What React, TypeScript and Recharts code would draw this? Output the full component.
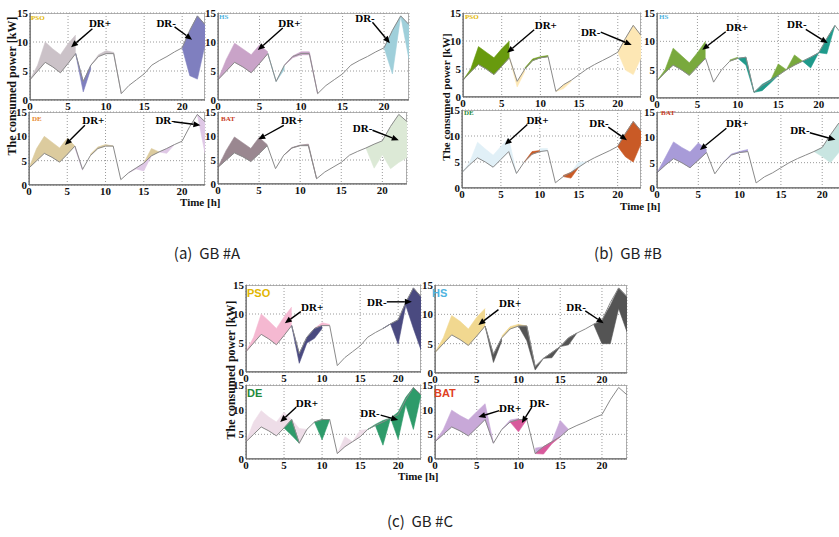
import React from 'react';
import { ComposedChart, Line, Area, XAxis, YAxis, CartesianGrid, ReferenceLine, ReferenceDot } from 'recharts';

type Band = [number, number, number][];
type Note = { text: string; at: [number, number]; from: [number, number]; to: [number, number] };

const HOURS = [0, 1, 2, 3, 4, 5, 6, 7, 8, 9, 10, 11, 12, 13, 14, 15, 16, 17, 18, 19, 20, 21, 22, 23];
const X_TICKS = [0, 5, 10, 15, 20];
const Y_TICKS = [0, 5, 10, 15];

const BASE_A = [3.5, 5, 6.5, 5.7, 4.7, 6.3, 8, 3.2, 6, 7.5, 8, 8, 1.1, 2.5, 3.5, 4.5, 6, 6.8, 7.5, 8.3, 9, 12, 14.5, 13];
const BASE_B = [3, 4.5, 5.8, 5, 4, 5.5, 7, 2.8, 5, 6.5, 7, 7.2, 1, 2.2, 3, 4, 5, 5.8, 6.5, 7.2, 8, 10.5, 12.8, 11];

// (a) GB #A
const A_PSO_PLUS: Band = [[0, 3.5, 3.5], [1, 5, 6], [2, 6.5, 10], [3, 5.7, 8.8], [4, 4.7, 7.8], [5, 6.3, 9.7], [6, 8, 11.2]];
const A_PSO_PLUS2: Band = [[8, 6, 6], [9, 7.5, 7.8], [10, 8, 8.5], [11, 8, 8.2], [12, 1.1, 1.1]];
const A_PSO_MINUS: Band = [[6, 8, 8], [7, 1.4, 3.2], [8, 5.4, 6]];
const A_PSO_MINUS2: Band = [[20, 9, 9], [21, 4.2, 12], [22, 3.6, 14.5], [23, 9.5, 13]];

const A_HS_PLUS: Band = [[0, 3.5, 3.5], [1, 5, 7], [2, 6.5, 9.8], [3, 5.7, 8.8], [4, 4.7, 7.8], [5, 6.3, 9.5], [6, 8, 8.3]];
const A_HS_PLUS2: Band = [[8, 6, 6], [9, 7.3, 7.6], [10, 7.8, 8.3], [11, 7.8, 8.3], [12, 1.1, 1.1]];
const A_HS_MINUS: Band = [[6, 8, 8], [7, 3.2, 3.2], [8, 5.3, 6]];
const A_HS_MINUS2: Band = [[20, 9, 9], [21, 4.5, 12], [22, 14.5, 14.5], [23, 7, 13]];

const A_DE_PLUS: Band = [[0, 3.5, 3.5], [1, 5, 7.5], [2, 6.5, 10], [3, 5.7, 8.8], [4, 4.7, 7.6], [5, 6.3, 9.6], [6, 8, 8]];
const A_DE_MINUS: Band = [[6, 7.6, 8], [7, 3, 3.2]];
const A_DE_PLUS2: Band = [[8, 6, 6.3], [9, 7.5, 7.8], [10, 8, 8.3], [11, 8, 8]];
const A_DE_MINUS2: Band = [[13, 2.5, 2.5], [14, 3.3, 3.5], [15, 2.9, 4.5], [16, 6, 6]];
const A_DE_PLUS3: Band = [[15, 4.5, 4.5], [16, 6, 7.5], [17, 6.8, 6.8]];
const A_DE_MINUS3: Band = [[17, 6.8, 6.8], [18, 6.5, 7.5], [19, 8.3, 8.3]];
const A_DE_MINUS4: Band = [[22, 14.5, 14.5], [23, 6.5, 13]];

const A_BAT_PLUS: Band = [[0, 3.5, 3.5], [1, 5, 7], [2, 6.5, 9.8], [3, 5.7, 8.6], [4, 4.7, 7.4], [5, 6.3, 9.7], [6, 8, 8.2]];
const A_BAT_PLUS2: Band = [[8, 6, 6], [9, 7.5, 7.6], [10, 8, 8.1], [11, 8, 8.3], [12, 1.1, 1.1]];
const A_BAT_MINUS: Band = [[18, 7.5, 7.5], [19, 3.3, 8.3], [20, 6.1, 9], [21, 3.2, 12], [22, 4.5, 14.5], [23, 5.5, 13]];

// (b) GB #B
const B_PSO_PLUS: Band = [[0, 3, 3], [1, 4.5, 5], [2, 5.8, 9], [3, 5, 8], [4, 4, 7], [5, 5.5, 8.6], [6, 7, 10]];
const B_PSO_PLUS2: Band = [[8, 5, 5.2], [9, 6.5, 6.8], [10, 7, 7.2], [11, 7.2, 7.4]];
const B_PSO_MINUS: Band = [[6, 7, 7], [7, 1.8, 2.8], [8, 4.6, 5]];
const B_PSO_MINUS2: Band = [[12, 1, 1], [13, 1.5, 2.2], [14, 2.8, 3]];
const B_PSO_MINUS3: Band = [[20, 8, 8], [21, 4.8, 10.5], [22, 4, 12.8], [23, 7, 11]];

const B_HS_PLUS: Band = [[0, 3, 3], [1, 4.5, 5], [2, 5.8, 8.8], [3, 5, 7.5], [4, 4, 6.2], [5, 5.5, 8], [6, 7, 10]];
const B_HS_PLUS2: Band = [[9, 6.5, 6.7], [10, 7, 7.2]];
const B_HS_MINUS: Band = [[10, 7, 7], [11, 5.8, 7.2], [12, 1, 1]];
const B_HS_MINUS2: Band = [[12, 1, 1], [13, 1.3, 2.4], [14, 2.6, 3.2], [15, 4, 4]];
const B_HS_PLUS3: Band = [[14, 3, 3], [15, 4, 6], [16, 5, 5]];
const B_HS_PLUS4: Band = [[16, 5, 5], [17, 5.8, 7.6], [18, 6.5, 6.5]];
const B_HS_MINUS3: Band = [[18, 6.5, 6.5], [19, 5.3, 7.2], [20, 8, 8]];
const B_HS_MINUS4: Band = [[20, 8, 8], [21, 7.8, 10.5], [22, 12.8, 12.8]];

const B_DE_PLUS: Band = [[0, 3, 3], [1, 4.5, 5], [2, 5.8, 8.8], [3, 5, 7.5], [4, 4, 6.3], [5, 5.5, 8], [6, 7, 9.6], [7, 2.8, 2.8]];
const B_DE_MINUS: Band = [[8, 5, 5], [9, 6.5, 7], [10, 7, 7.2]];
const B_DE_PLUS2: Band = [[10, 7, 7.6], [11, 7.2, 7.6]];
const B_DE_MINUS2: Band = [[13, 2.2, 2.4], [14, 1.9, 3], [15, 4, 4]];
const B_DE_PLUS3: Band = [[14, 3, 3], [15, 4, 5], [16, 5, 5]];
const B_DE_MINUS3: Band = [[20, 8, 8], [21, 6, 10.5], [22, 5, 12.8], [23, 8.5, 11]];

const B_BAT_PLUS: Band = [[0, 3, 3], [1, 4.5, 6], [2, 5.8, 9.1], [3, 5, 8], [4, 4, 7.1], [5, 5.5, 8.9], [6, 7, 7.6]];
const B_BAT_PLUS2: Band = [[8, 5, 5], [9, 6.5, 6.7], [10, 7, 7.2], [11, 7.2, 7.6]];
const B_BAT_MINUS: Band = [[19, 7.2, 7.2], [20, 6.2, 8], [21, 5, 10.5], [22, 7, 12.8], [23, 8, 11]];

// (c) GB #C
const C_PSO_PLUS: Band = [[0, 3.5, 3.5], [1, 5, 6], [2, 6.5, 10], [3, 5.7, 8.8], [4, 4.7, 7.5], [5, 6.3, 9.5], [6, 8, 11.2]];
const C_PSO_MINUS: Band = [[6, 8, 8], [7, 1.5, 3.2], [8, 5, 6], [9, 5.8, 7.5], [10, 7.5, 8]];
const C_PSO_PLUS2: Band = [[9, 7.5, 7.5], [10, 8, 8.5], [11, 8, 8.2]];
const C_PSO_MINUS2: Band = [[18, 7.5, 7.5], [19, 8.3, 8.3], [20, 4.8, 9], [21, 11.5, 12], [22, 7.5, 14.5], [23, 3.8, 13]];

const C_HS_PLUS: Band = [[0, 3.5, 3.5], [1, 5, 6], [2, 6.5, 9.8], [3, 5.7, 8.8], [4, 4.7, 7.5], [5, 6.3, 9.5], [6, 8, 11]];
const C_HS_MINUS: Band = [[6, 8, 8], [7, 1.8, 3.2], [8, 5.5, 6]];
const C_HS_PLUS2: Band = [[8, 6, 6.3], [9, 7.5, 7.9], [10, 8, 8.3], [11, 8, 8]];
const C_HS_MINUS2: Band = [[10, 8, 8], [11, 5.5, 8], [12, 0.5, 1.1], [13, 2.5, 2.5], [14, 2.6, 3.5], [15, 4.5, 4.5], [16, 4.8, 6], [17, 6.8, 6.8]];
const C_HS_MINUS3: Band = [[19, 8.3, 8.3], [20, 5, 9], [21, 5, 11.5], [22, 11, 14.5], [23, 7, 13]];

const C_DE_PLUS: Band = [[0, 3.5, 3.5], [1, 5, 7.5], [2, 6.5, 9.8], [3, 5.7, 8.5], [4, 4.7, 7.5], [5, 6.3, 9.5], [6, 8, 8], [7, 3.2, 6.2], [8, 6, 6]];
const C_DE_MINUS: Band = [[5, 6.3, 6.3], [6, 4.8, 8], [7, 3.2, 3.2]];
const C_DE_MINUS2: Band = [[9, 7.5, 7.5], [10, 3.9, 8], [11, 8, 8]];
const C_DE_PLUS2: Band = [[12, 1.1, 1.1], [13, 2.5, 4.5], [14, 3.5, 3.5], [15, 4.5, 5.8], [16, 6, 6]];
const C_DE_MINUS3: Band = [[16, 6, 6], [17, 6.8, 7], [18, 2.8, 7.8], [19, 8.3, 8.3], [20, 4, 9.5], [21, 11, 12.5], [22, 6, 14.5], [23, 13, 13]];

const C_BAT_PLUS: Band = [[0, 3.5, 3.5], [1, 5, 6], [2, 6.5, 9.9], [3, 5.7, 8.8], [4, 4.7, 7.9], [5, 6.3, 9.6], [6, 8, 11.2], [7, 3.2, 3.2]];
const C_BAT_PLUS2: Band = [[8, 6, 6], [9, 7.5, 7.9], [10, 8, 8.2]];
const C_BAT_MINUS: Band = [[9, 7.5, 7.5], [10, 5.5, 8], [11, 8, 8]];
const C_BAT_PLUS3: Band = [[12, 1.1, 2.2], [13, 2.5, 2.5]];
const C_BAT_MINUS2: Band = [[12, 1.1, 1.1], [13, 1, 2.5], [14, 3.1, 3.5], [15, 4.5, 4.5]];
const C_BAT_PLUS4: Band = [[14, 3.5, 3.5], [15, 4.5, 7.8], [16, 6, 6]];

// annotations (data coordinates: hour, kW)
const A_PSO_NOTES: Note[] = [
  { text: 'DR+', at: [9.2, 13.3], from: [8.2, 12.3], to: [5.4, 9.1] },
  { text: 'DR-', at: [17.9, 13.3], from: [19.0, 12.6], to: [21.3, 10.4] },
];
const A_HS_NOTES: Note[] = [
  { text: 'DR+', at: [8.6, 13.3], from: [7.8, 12.4], to: [4.8, 8.6] },
  { text: 'DR-', at: [17.7, 14.2], from: [18.6, 13.4], to: [20.7, 9.8] },
];
const A_DE_NOTES: Note[] = [
  { text: 'DR+', at: [8.4, 13.3], from: [7.3, 12.3], to: [4.7, 8.2] },
  { text: 'DR-', at: [17.8, 13.3], from: [18.9, 13.0], to: [22.4, 12.3] },
];
const A_BAT_NOTES: Note[] = [
  { text: 'DR+', at: [9, 13.3], from: [8, 12.2], to: [4.9, 9.3] },
  { text: 'DR-', at: [17.6, 11.6], from: [18.8, 11.2], to: [22, 9.1] },
];
const B_PSO_NOTES: Note[] = [
  { text: 'DR+', at: [10.7, 12.9], from: [9.2, 12.0], to: [5.7, 7.9] },
  { text: 'DR-', at: [16.5, 11.6], from: [17.8, 11.6], to: [21.8, 9.3] },
];
const B_HS_NOTES: Note[] = [
  { text: 'DR+', at: [9.9, 12.5], from: [8.5, 11.7], to: [5.6, 8.5] },
  { text: 'DR-', at: [17.3, 13], from: [18.4, 12.1], to: [21.1, 9.7] },
];
const B_DE_NOTES: Note[] = [
  { text: 'DR+', at: [9.7, 13.1], from: [8.4, 12.2], to: [5.5, 8.3] },
  { text: 'DR-', at: [17.6, 12.5], from: [18.8, 11.7], to: [21.2, 9.2] },
];
const B_BAT_NOTES: Note[] = [
  { text: 'DR+', at: [9.7, 12.8], from: [8.4, 11.8], to: [5.2, 7.5] },
  { text: 'DR-', at: [17.3, 11.4], from: [18.5, 10.9], to: [21.6, 9.5] },
];
const C_PSO_NOTES: Note[] = [
  { text: 'DR+', at: [8.7, 11.2], from: [7.2, 10.4], to: [5.1, 8.4] },
  { text: 'DR-', at: [17.2, 12.1], from: [18.5, 12.1], to: [21.8, 12.1] },
];
const C_HS_NOTES: Note[] = [
  { text: 'DR+', at: [9, 11.9], from: [7.6, 10.8], to: [5.2, 8.2] },
  { text: 'DR-', at: [16.9, 11.2], from: [18.0, 10.6], to: [20.2, 8.5] },
];
const C_DE_NOTES: Note[] = [
  { text: 'DR+', at: [8, 11.3], from: [6.6, 10.5], to: [4.5, 7.5] },
  { text: 'DR-', at: [16.3, 9.3], from: [17.7, 8.9], to: [20, 7.9] },
];
const C_BAT_NOTES: Note[] = [
  { text: 'DR+', at: [9, 10.3], from: [7.7, 9.8], to: [5.2, 8.5] },
  { text: 'DR-', at: [12.5, 11.4], from: [11.6, 10.5], to: [10.4, 7.3] },
];

type Geo = { x0: number; x23: number; yTop: number; yBot: number };
type PanelDef = {
  geo: Geo;
  base: number[];
  bands: { data: Band; color: string }[];
  notes: Note[];
};

const PANELS: PanelDef[] = [
  { geo: { x0: 30, x23: 205, yTop: 13, yBot: 100 }, base: BASE_A, notes: A_PSO_NOTES, bands: [
    { data: A_PSO_PLUS, color: '#cbc2c8' }, { data: A_PSO_PLUS2, color: '#cbc2c8' },
    { data: A_PSO_MINUS, color: '#7f7fbf' }, { data: A_PSO_MINUS2, color: '#7f7fbf' }] },
  { geo: { x0: 218, x23: 409, yTop: 13, yBot: 100 }, base: BASE_A, notes: A_HS_NOTES, bands: [
    { data: A_HS_PLUS, color: '#c9a3c8' }, { data: A_HS_PLUS2, color: '#c9a3c8' },
    { data: A_HS_MINUS, color: '#9fcfda' }, { data: A_HS_MINUS2, color: '#9fcfda' }] },
  { geo: { x0: 29, x23: 205, yTop: 112, yBot: 185 }, base: BASE_A, notes: A_DE_NOTES, bands: [
    { data: A_DE_PLUS, color: '#dccb9e' }, { data: A_DE_PLUS2, color: '#dccb9e' }, { data: A_DE_PLUS3, color: '#dccb9e' },
    { data: A_DE_MINUS, color: '#dfc8e6' }, { data: A_DE_MINUS2, color: '#dfc8e6' }, { data: A_DE_MINUS3, color: '#dfc8e6' },
    { data: A_DE_MINUS4, color: '#dfc8e6' }] },
  { geo: { x0: 218, x23: 407, yTop: 112, yBot: 184 }, base: BASE_A, notes: A_BAT_NOTES, bands: [
    { data: A_BAT_PLUS, color: '#9a8790' }, { data: A_BAT_PLUS2, color: '#9a8790' },
    { data: A_BAT_MINUS, color: '#dce9d6' }] },
  { geo: { x0: 463, x23: 641, yTop: 13, yBot: 97 }, base: BASE_B, notes: B_PSO_NOTES, bands: [
    { data: B_PSO_PLUS, color: '#689a0e' }, { data: B_PSO_PLUS2, color: '#689a0e' },
    { data: B_PSO_MINUS, color: '#fde7b4' }, { data: B_PSO_MINUS2, color: '#fde7b4' }, { data: B_PSO_MINUS3, color: '#fde7b4' }] },
  { geo: { x0: 657, x23: 843, yTop: 13, yBot: 98 }, base: BASE_B, notes: B_HS_NOTES, bands: [
    { data: B_HS_PLUS, color: '#79a93d' }, { data: B_HS_PLUS2, color: '#79a93d' }, { data: B_HS_PLUS3, color: '#79a93d' },
    { data: B_HS_PLUS4, color: '#79a93d' },
    { data: B_HS_MINUS, color: '#1f9a8b' }, { data: B_HS_MINUS2, color: '#1f9a8b' }, { data: B_HS_MINUS3, color: '#1f9a8b' },
    { data: B_HS_MINUS4, color: '#1f9a8b' }] },
  { geo: { x0: 462, x23: 641, yTop: 110, yBot: 188 }, base: BASE_B, notes: B_DE_NOTES, bands: [
    { data: B_DE_PLUS, color: '#e1f0f7' }, { data: B_DE_PLUS2, color: '#e1f0f7' }, { data: B_DE_PLUS3, color: '#e1f0f7' },
    { data: B_DE_MINUS, color: '#c95a26' }, { data: B_DE_MINUS2, color: '#c95a26' }, { data: B_DE_MINUS3, color: '#c95a26' }] },
  { geo: { x0: 657, x23: 847, yTop: 112, yBot: 188 }, base: BASE_B, notes: B_BAT_NOTES, bands: [
    { data: B_BAT_PLUS, color: '#a89bd8' }, { data: B_BAT_PLUS2, color: '#a89bd8' },
    { data: B_BAT_MINUS, color: '#c8e5e1' }] },
  { geo: { x0: 246, x23: 421, yTop: 285, yBot: 372 }, base: BASE_A, notes: C_PSO_NOTES, bands: [
    { data: C_PSO_PLUS, color: '#f5b8d1' }, { data: C_PSO_PLUS2, color: '#f5b8d1' },
    { data: C_PSO_MINUS, color: '#4a4a80' }, { data: C_PSO_MINUS2, color: '#4a4a80' }] },
  { geo: { x0: 435, x23: 627, yTop: 285, yBot: 373 }, base: BASE_A, notes: C_HS_NOTES, bands: [
    { data: C_HS_PLUS, color: '#f1d890' }, { data: C_HS_PLUS2, color: '#f1d890' },
    { data: C_HS_MINUS, color: '#545454' }, { data: C_HS_MINUS2, color: '#545454' }, { data: C_HS_MINUS3, color: '#545454' }] },
  { geo: { x0: 246, x23: 421, yTop: 385, yBot: 459 }, base: BASE_A, notes: C_DE_NOTES, bands: [
    { data: C_DE_PLUS, color: '#eedde8' }, { data: C_DE_PLUS2, color: '#eedde8' },
    { data: C_DE_MINUS, color: '#2e9b6a' }, { data: C_DE_MINUS2, color: '#2e9b6a' }, { data: C_DE_MINUS3, color: '#2e9b6a' }] },
  { geo: { x0: 435, x23: 627, yTop: 385, yBot: 459 }, base: BASE_A, notes: C_BAT_NOTES, bands: [
    { data: C_BAT_PLUS, color: '#c8a8d8' }, { data: C_BAT_PLUS2, color: '#c8a8d8' }, { data: C_BAT_PLUS3, color: '#c8a8d8' },
    { data: C_BAT_PLUS4, color: '#c8a8d8' },
    { data: C_BAT_MINUS, color: '#d85a9c' }, { data: C_BAT_MINUS2, color: '#d85a9c' }] },
];

const PANEL_LABELS = [
  { text: 'PSO', x: 31, y: 20, color: '#e2b600', size: 7, big: false },
  { text: 'HS', x: 219, y: 19, color: '#4fb3e0', size: 7, big: false },
  { text: 'DE', x: 32, y: 121, color: '#e8862a', size: 7, big: false },
  { text: 'BAT', x: 221, y: 121, color: '#c83c1e', size: 7, big: false },
  { text: 'PSO', x: 465, y: 19, color: '#e2b600', size: 7, big: false },
  { text: 'HS', x: 659, y: 19, color: '#4fb3e0', size: 7, big: false },
  { text: 'DE', x: 464, y: 115, color: '#1f8a3c', size: 7, big: false },
  { text: 'BAT', x: 661, y: 115, color: '#c83c1e', size: 7, big: false },
  { text: 'PSO', x: 247, y: 297, color: '#e2b600', size: 11, big: true },
  { text: 'HS', x: 432, y: 297, color: '#4fb3e0', size: 11, big: true },
  { text: 'DE', x: 247, y: 397, color: '#1f8a3c', size: 11, big: true },
  { text: 'BAT', x: 434, y: 397, color: '#e0401e', size: 11, big: true },
];

const Y_LABELS = [
  { x: 12, y: 86, size: 12 },
  { x: 446, y: 97, size: 11 },
  { x: 231, y: 370, size: 12 },
];
const TIME_LABELS = [
  { x: 180, y: 206 },
  { x: 620, y: 210 },
  { x: 398, y: 480 },
];
const CAPTIONS = [
  { text: '(a)\u00a0\u00a0GB #A', x: 207, y: 252 },
  { text: '(b)\u00a0\u00a0GB #B', x: 628, y: 252 },
  { text: '(c)\u00a0\u00a0GB #C', x: 420, y: 520 },
];

const SERIF = '"Liberation Serif", "DejaVu Serif", serif';

const ArrowShape = (p: any) => {
  const { x1, y1, x2, y2 } = p;
  if (x1 == null || x2 == null) return <g />;
  const dx = x2 - x1;
  const dy = y2 - y1;
  const len = Math.hypot(dx, dy) || 1;
  const ux = dx / len;
  const uy = dy / len;
  const L = 7;
  const W = 3;
  const bx = x2 - ux * L;
  const by = y2 - uy * L;
  return (
    <g>
      <line x1={x1} y1={y1} x2={bx} y2={by} stroke="#000" strokeWidth={1.4} />
      <polygon points={`${x2},${y2} ${bx - uy * W},${by + ux * W} ${bx + uy * W},${by - ux * W}`} fill="#000" />
    </g>
  );
};

function Panel({ def }: { def: PanelDef }) {
  const YW = 26;
  const XH = 18;
  const MT = 6;
  const MR = 2;
  const { geo, base, bands, notes } = def;
  const plotW = geo.x23 - geo.x0;
  const plotH = geo.yBot - geo.yTop;
  const rows = HOURS.map((h, i) => {
    const r: any = { h, base: base[i] };
    bands.forEach((b, k) => {
      const p = b.data.find((d) => d[0] === h);
      if (p) r['b' + k] = [p[1], p[2]];
    });
    return r;
  });
  const tickStyle = { fontSize: 11, fontFamily: SERIF, fontWeight: 'bold', fill: '#111' };
  return (
    <>
      <div
        style={{
          position: 'absolute',
          left: geo.x0,
          top: geo.yTop,
          width: plotW,
          height: plotH,
          border: '1px solid #b0b0b0',
          boxSizing: 'border-box',
        }}
      />
      <div style={{ position: 'absolute', left: geo.x0 - YW, top: geo.yTop - MT }}>
        <ComposedChart
          width={plotW + YW + MR}
          height={plotH + MT + XH}
          data={rows}
          margin={{ top: MT, right: MR, left: 0, bottom: 0 }}
        >
          <CartesianGrid stroke="#9a9a9a" strokeDasharray="1 2" />
          <XAxis
            dataKey="h"
            type="number"
            domain={[0, 23]}
            ticks={X_TICKS}
            height={XH}
            tickLine={false}
            tickSize={0}
            tickMargin={2}
            axisLine={{ stroke: '#555' }}
            tick={tickStyle}
            allowDataOverflow
          />
          <YAxis
            type="number"
            domain={[0, 15]}
            ticks={Y_TICKS}
            width={YW}
            tickLine={false}
            tickSize={0}
            tickMargin={2}
            axisLine={{ stroke: '#555' }}
            tick={tickStyle}
            allowDataOverflow
          />
          {bands.map((b, k) => (
            <Area
              key={'b' + k}
              dataKey={'b' + k}
              type="linear"
              stroke={b.color}
              strokeWidth={0.6}
              fill={b.color}
              fillOpacity={1}
              dot={false}
              activeDot={false}
              connectNulls={false}
              isAnimationActive={false}
            />
          ))}
          <Line
            dataKey="base"
            type="linear"
            stroke="#8a8a8a"
            strokeWidth={1}
            dot={false}
            activeDot={false}
            isAnimationActive={false}
          />
          {notes.map((n, k) => (
            <ReferenceLine
              key={'a' + k}
              segment={[{ x: n.from[0], y: n.from[1] }, { x: n.to[0], y: n.to[1] }]}
              ifOverflow="visible"
              shape={(p: any) => <ArrowShape {...p} />}
            />
          ))}
          {notes.map((n, k) => (
            <ReferenceDot
              key={'t' + k}
              x={n.at[0]}
              y={n.at[1]}
              r={0}
              ifOverflow="visible"
              shape={(p: any) => (
                <text
                  x={p.cx}
                  y={p.cy}
                  textAnchor="middle"
                  dominantBaseline="central"
                  fontFamily={SERIF}
                  fontWeight="bold"
                  fontSize={11}
                  fill="#000"
                >
                  {n.text}
                </text>
              )}
            />
          ))}
        </ComposedChart>
      </div>
    </>
  );
}

export default function App() {
  return (
    <div
      style={{
        position: 'absolute',
        left: 0,
        top: 0,
        width: 839,
        height: 537,
        overflow: 'hidden',
        background: '#fff',
      }}
    >
      {PANELS.map((p, i) => (
        <Panel key={i} def={p} />
      ))}
      <svg width={839} height={537} style={{ position: 'absolute', left: 0, top: 0, pointerEvents: 'none' }}>
        {PANEL_LABELS.map((l, i) => (
          <text
            key={'pl' + i}
            x={l.x}
            y={l.y}
            fill={l.color}
            fontSize={l.size}
            fontWeight="bold"
            fontFamily={l.big ? '"Liberation Sans", Arial, sans-serif' : SERIF}
          >
            {l.text}
          </text>
        ))}
        {Y_LABELS.map((l, i) => (
          <text
            key={'yl' + i}
            x={l.x}
            y={l.y}
            transform={`rotate(-90, ${l.x}, ${l.y})`}
            textAnchor="middle"
            dominantBaseline="central"
            fontFamily={SERIF}
            fontWeight="bold"
            fontSize={l.size}
            fill="#111"
          >
            The consumed power [kW]
          </text>
        ))}
        {TIME_LABELS.map((l, i) => (
          <text key={'tl' + i} x={l.x} y={l.y} fontFamily={SERIF} fontWeight="bold" fontSize={11} fill="#111">
            Time [h]
          </text>
        ))}
        {CAPTIONS.map((c, i) => (
          <text
            key={'c' + i}
            x={c.x}
            y={c.y}
            textAnchor="middle"
            dominantBaseline="central"
            fontFamily='"Noto Sans CJK KR", "Noto Sans", sans-serif'
            fontSize={15}
            fill="#222"
          >
            {c.text}
          </text>
        ))}
      </svg>
    </div>
  );
}
